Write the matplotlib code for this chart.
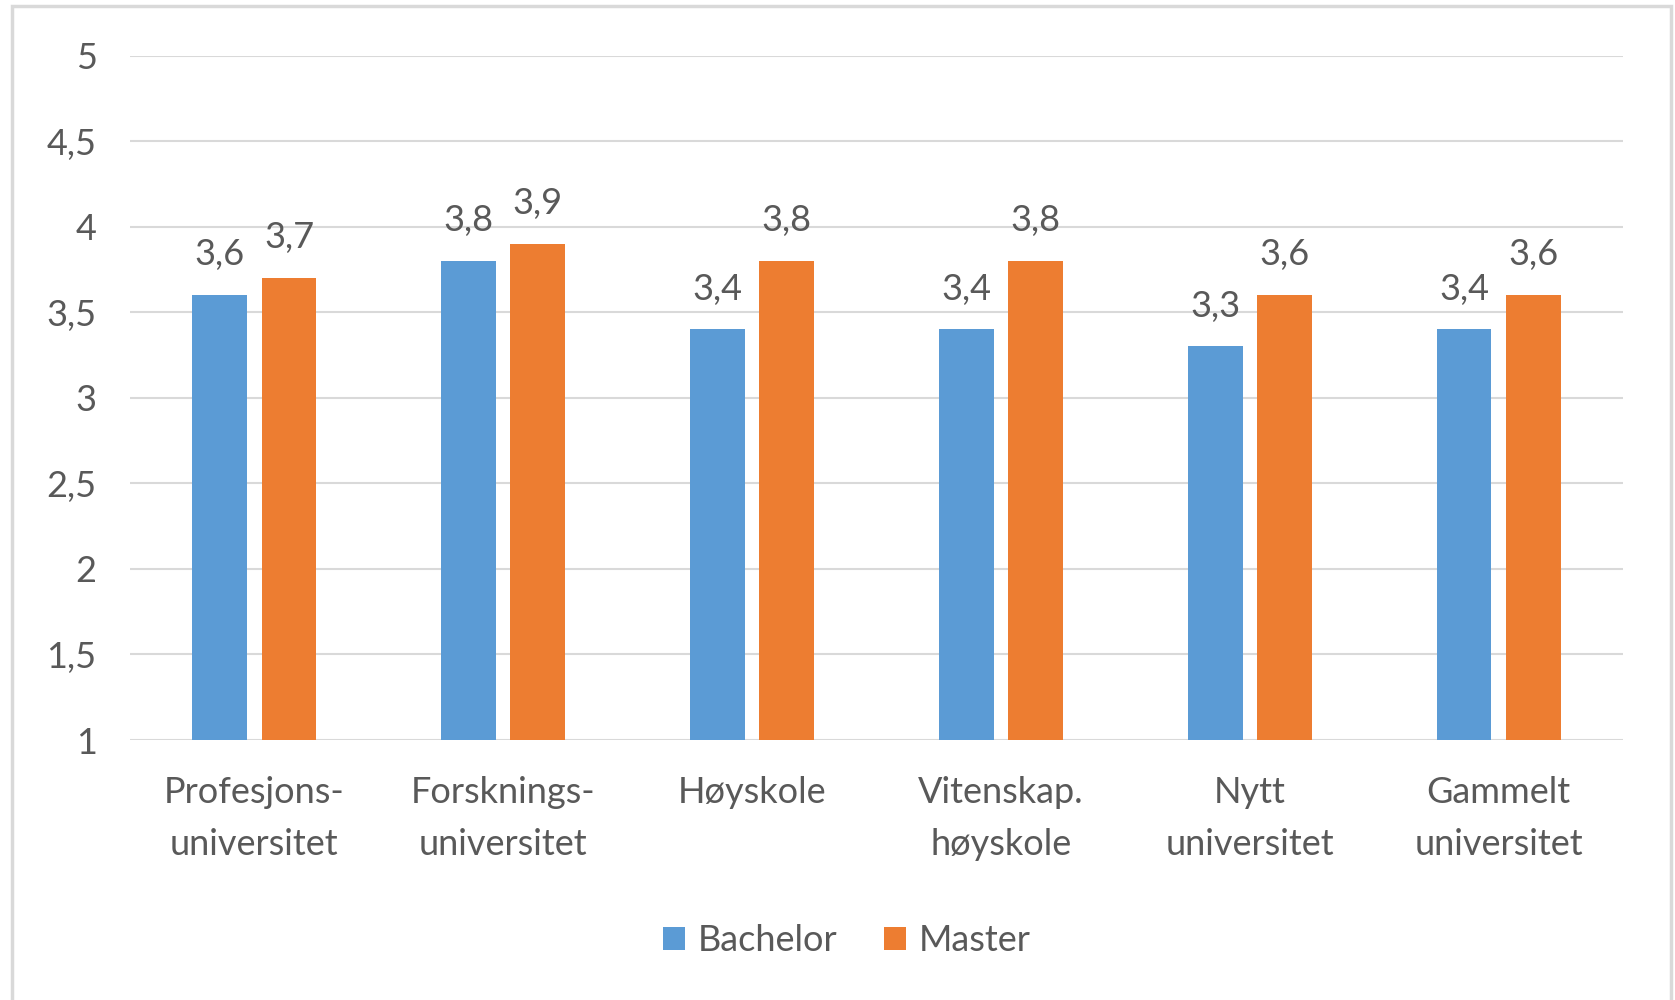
import matplotlib.pyplot as plt
import numpy as np
from matplotlib.patches import Rectangle

# Data
categories = ['Profesjons-\nuniversitet', 'Forsknings-\nuniversitet', 'Høyskole',
              'Vitenskap.\nhøyskole', 'Nytt\nuniversitet', 'Gammelt\nuniversitet']
bachelor = [3.6, 3.8, 3.4, 3.4, 3.3, 3.4]
master = [3.7, 3.9, 3.8, 3.8, 3.6, 3.6]
yticks = [1, 1.5, 2, 2.5, 3, 3.5, 4, 4.5, 5]

blue = '#5b9bd5'
orange = '#ed7d31'
text_col = '#595959'
grid_col = '#d9d9d9'
fs = 26

plt.rcParams['font.family'] = ['Lato', 'DejaVu Sans']

fig = plt.figure(figsize=(16.75, 10), dpi=100)
ax = fig.add_axes([130 / 1675, 0.26, (1623 - 130) / 1675, 0.6845])

x = np.arange(len(categories))
w = 0.22
off = 0.139
b1 = ax.bar(x - off, np.array(bachelor) - 1, w, bottom=1, color=blue, label='Bachelor', zorder=3)
b2 = ax.bar(x + off, np.array(master) - 1, w, bottom=1, color=orange, label='Master', zorder=3)

for bars, vals in ((b1, bachelor), (b2, master)):
    for r, v in zip(bars, vals):
        ax.annotate(f'{v:.1f}'.replace('.', ','), (r.get_x() + r.get_width() / 2, v),
                    xytext=(0, 17), textcoords='offset points', ha='center', va='bottom',
                    fontsize=fs, color=text_col)

ax.set_xlim(-0.5, len(categories) - 0.5)
ax.set_ylim(1, 5)
ax.set_yticks(yticks)
ax.set_yticklabels([f'{t:g}'.replace('.', ',') for t in yticks])
ax.set_xticks(x)
ax.set_xticklabels(categories, linespacing=1.7)
ax.tick_params(axis='y', length=0, pad=24, labelsize=fs, labelcolor=text_col)
ax.tick_params(axis='x', length=0, pad=26, labelsize=fs, labelcolor=text_col)
ax.grid(axis='y', color=grid_col, lw=1.5, zorder=0)
for s in ax.spines.values():
    s.set_visible(False)

leg = ax.legend(loc='center', bbox_to_anchor=(0.48, -0.293), ncol=2, frameon=False,
                fontsize=fs, handlelength=0.6, handleheight=0.6, handletextpad=0.35,
                columnspacing=1.3)
for t in leg.get_texts():
    t.set_color(text_col)

# outer chart border
fig.patches.append(Rectangle((12 / 1675, -0.05), (1671 - 12) / 1675, 1.044,
                             transform=fig.transFigure, fill=False,
                             edgecolor=grid_col, lw=2.5))

fig.savefig('out.png', dpi=100)
